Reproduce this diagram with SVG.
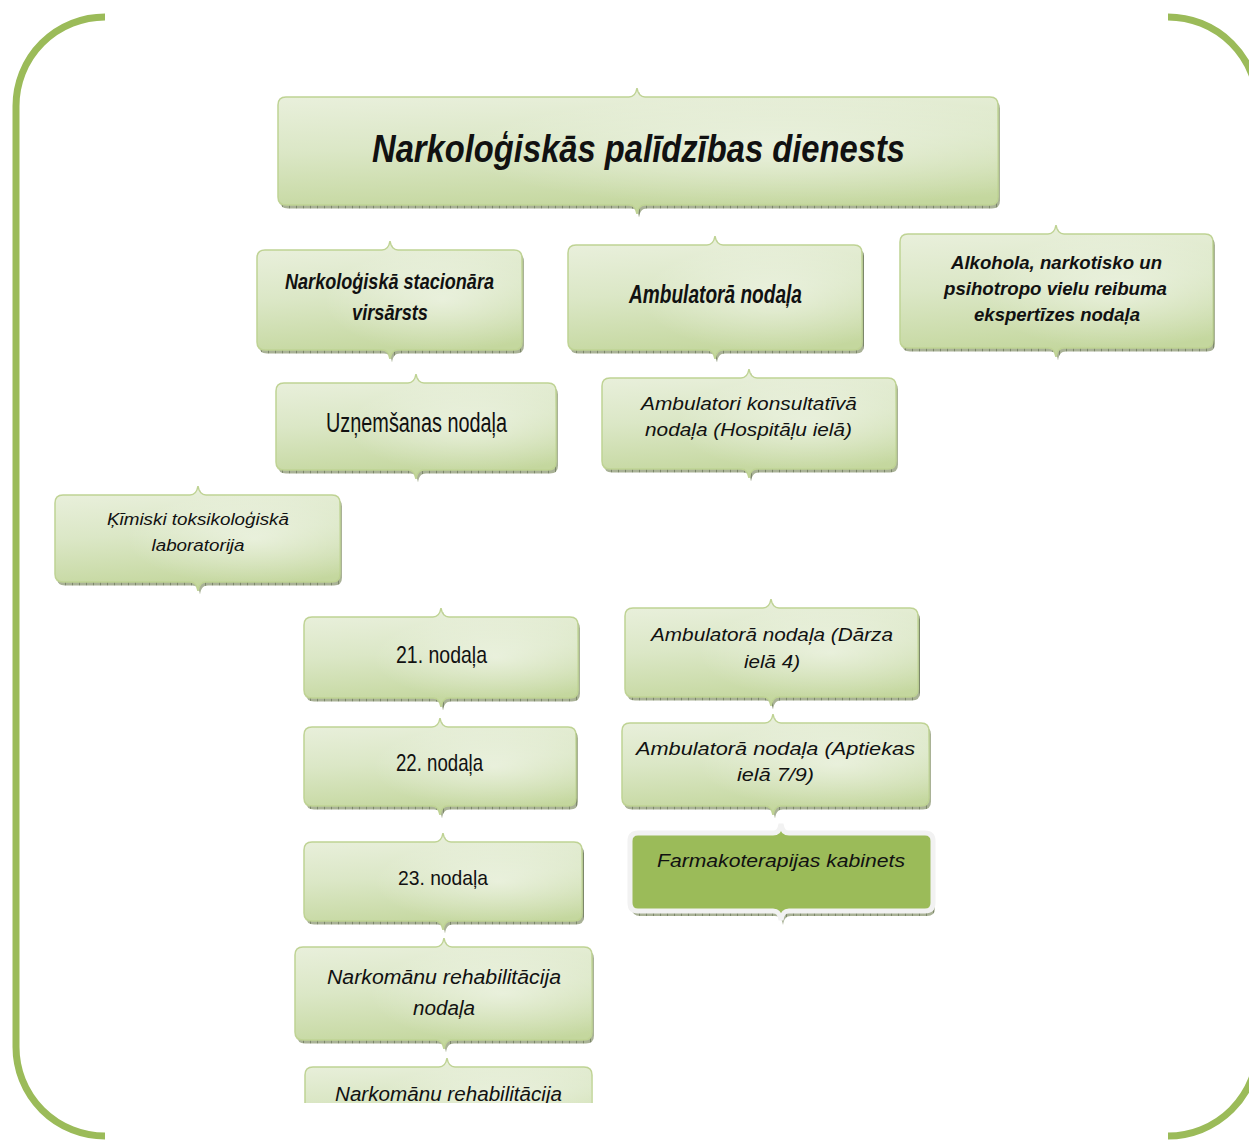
<svg xmlns="http://www.w3.org/2000/svg" xmlns:xlink="http://www.w3.org/1999/xlink" width="1249" height="1141" viewBox="0 0 1249 1141">
<style>
.frame{fill:none;stroke:#9bbb59;stroke-width:7}
.sh{fill:url(#hatch)}
.box{fill:url(#bg);stroke:#bfd394;stroke-width:1.5}
.hl{fill:url(#rg);stroke:none}
.dark{fill:#9bbb59;stroke:#f2f2f2;stroke-width:5}
text{fill:#111;text-anchor:middle}
.tb{font-family:"Liberation Sans",Arial,sans-serif;font-weight:bold;font-style:italic}
.nb{font-family:"Liberation Sans Narrow","Liberation Sans",sans-serif;font-weight:bold;font-style:italic}
.nr{font-family:"Liberation Sans Narrow","Liberation Sans",sans-serif}
.it{font-family:"Liberation Sans",Arial,sans-serif;font-style:italic}
</style>
<defs>
<linearGradient id="bg" x1="0" y1="0" x2="0.15" y2="1">
<stop offset="0" stop-color="#ebf1df"/>
<stop offset="0.5" stop-color="#dbe7c6"/>
<stop offset="1" stop-color="#c4d79e"/>
</linearGradient>
<radialGradient id="rg" cx="0.7" cy="0.5" r="0.45">
<stop offset="0" stop-color="#ffffff" stop-opacity="0.45"/>
<stop offset="1" stop-color="#ffffff" stop-opacity="0"/>
</radialGradient>
<pattern id="hatch" width="7" height="6" patternUnits="userSpaceOnUse">
<rect width="7" height="6" fill="#a9b296"/>
<line x1="0.5" y1="0" x2="0.5" y2="6" stroke="#7c876a" stroke-width="1"/>
</pattern>
<clipPath id="clipBottom"><rect x="0" y="0" width="1249" height="1103"/></clipPath>
<path id="p1" d="M286,97 H629 C634,97 636,94 637,88 C638,94 640,97 645,97 H990 Q998,97 998,105 V197 Q998,205 990,205 H645 C640,205 638,208 637,214 C636,208 634,205 629,205 H286 Q278,205 278,197 V105 Q278,97 286,97 Z"/>
<path id="p2" d="M265,250 H382 C387,250 389,247 390,241 C391,247 393,250 398,250 H514 Q522,250 522,258 V342 Q522,350 514,350 H398 C393,350 391,353 390,359 C389,353 387,350 382,350 H265 Q257,350 257,342 V258 Q257,250 265,250 Z"/>
<path id="p3" d="M576,245 H707 C712,245 714,242 715,236 C716,242 718,245 723,245 H854 Q862,245 862,253 V342 Q862,350 854,350 H723 C718,350 716,353 715,359 C714,353 712,350 707,350 H576 Q568,350 568,342 V253 Q568,245 576,245 Z"/>
<path id="p4" d="M908,234 H1048 C1053,234 1055,231 1056,225 C1057,231 1059,234 1064,234 H1205 Q1213,234 1213,242 V340 Q1213,348 1205,348 H1064 C1059,348 1057,351 1056,357 C1055,351 1053,348 1048,348 H908 Q900,348 900,340 V242 Q900,234 908,234 Z"/>
<path id="p5" d="M284,383 H408 C413,383 415,380 416,374 C417,380 419,383 424,383 H548 Q556,383 556,391 V462 Q556,470 548,470 H424 C419,470 417,473 416,479 C415,473 413,470 408,470 H284 Q276,470 276,462 V391 Q276,383 284,383 Z"/>
<path id="p6" d="M610,378 H741 C746,378 748,375 749,369 C750,375 752,378 757,378 H888 Q896,378 896,386 V461 Q896,469 888,469 H757 C752,469 750,472 749,478 C748,472 746,469 741,469 H610 Q602,469 602,461 V386 Q602,378 610,378 Z"/>
<path id="p7" d="M63,495 H190 C195,495 197,492 198,486 C199,492 201,495 206,495 H332 Q340,495 340,503 V574 Q340,582 332,582 H206 C201,582 199,585 198,591 C197,585 195,582 190,582 H63 Q55,582 55,574 V503 Q55,495 63,495 Z"/>
<path id="p8" d="M312,617 H433 C438,617 440,614 441,608 C442,614 444,617 449,617 H570 Q578,617 578,625 V690 Q578,698 570,698 H449 C444,698 442,701 441,707 C440,701 438,698 433,698 H312 Q304,698 304,690 V625 Q304,617 312,617 Z"/>
<path id="p9" d="M312,727 H432 C437,727 439,724 440,718 C441,724 443,727 448,727 H568 Q576,727 576,735 V798 Q576,806 568,806 H448 C443,806 441,809 440,815 C439,809 437,806 432,806 H312 Q304,806 304,798 V735 Q304,727 312,727 Z"/>
<path id="p10" d="M312,842 H435 C440,842 442,839 443,833 C444,839 446,842 451,842 H574 Q582,842 582,850 V913 Q582,921 574,921 H451 C446,921 444,924 443,930 C442,924 440,921 435,921 H312 Q304,921 304,913 V850 Q304,842 312,842 Z"/>
<path id="p11" d="M303,947 H436 C441,947 443,944 444,938 C445,944 447,947 452,947 H584 Q592,947 592,955 V1032 Q592,1040 584,1040 H452 C447,1040 445,1043 444,1049 C443,1043 441,1040 436,1040 H303 Q295,1040 295,1032 V955 Q295,947 303,947 Z"/>
<path id="p12" d="M313,1067 H439 C444,1067 446,1064 447,1058 C448,1064 450,1067 455,1067 H584 Q592,1067 592,1075 V1140 H305 V1075 Q305,1067 313,1067 Z"/>
<path id="p13" d="M633,608 H763 C768,608 770,605 771,599 C772,605 774,608 779,608 H910 Q918,608 918,616 V689 Q918,697 910,697 H779 C774,697 772,700 771,706 C770,700 768,697 763,697 H633 Q625,697 625,689 V616 Q625,608 633,608 Z"/>
<path id="p14" d="M630,723 H765 C770,723 772,720 773,714 C774,720 776,723 781,723 H921 Q929,723 929,731 V798 Q929,806 921,806 H781 C776,806 774,809 773,815 C772,809 770,806 765,806 H630 Q622,806 622,798 V731 Q622,723 630,723 Z"/>
<path id="p15" d="M638,833 H773 C778,833 780,830 781,824 C782,830 784,833 789,833 H925 Q933,833 933,841 V903 Q933,911 925,911 H789 C784,911 782,914 781,920 C780,914 778,911 773,911 H638 Q630,911 630,903 V841 Q630,833 638,833 Z"/>
</defs>
<rect width="1249" height="1141" fill="#ffffff"/>
<g id="frame">
<path class="frame" d="M105,17 A89,89 0 0 0 16,106 V1047 A89,89 0 0 0 105,1136"/>
<path class="frame" d="M1168,17 A90,90 0 0 1 1258,107 V1046 A90,90 0 0 1 1168,1136"/>
</g>
<g id="connectors"></g>
<g id="n-title">
<use href="#p1" class="sh" transform="translate(2,3.5)"/>
<use href="#p1" class="box"/><use href="#p1" class="hl"/>
<text class="tb" x="638.5" y="162" font-size="38" textLength="533" lengthAdjust="spacingAndGlyphs">Narkoloģiskās palīdzības dienests</text>
</g>
<g id="n-stacionars">
<use href="#p2" class="sh" transform="translate(2,3.5)"/>
<use href="#p2" class="box"/><use href="#p2" class="hl"/>
<text class="nb" x="389.5" y="289" font-size="22" textLength="209" lengthAdjust="spacingAndGlyphs">Narkoloģiskā stacionāra</text>
<text class="nb" x="390" y="320" font-size="22" textLength="76" lengthAdjust="spacingAndGlyphs">virsārsts</text>
</g>
<g id="n-ambulatora">
<use href="#p3" class="sh" transform="translate(2,3.5)"/>
<use href="#p3" class="box"/><use href="#p3" class="hl"/>
<text class="nb" x="715.5" y="303" font-size="25" textLength="173" lengthAdjust="spacingAndGlyphs">Ambulatorā nodaļa</text>
</g>
<g id="n-ekspertizes">
<use href="#p4" class="sh" transform="translate(2,3.5)"/>
<use href="#p4" class="box"/><use href="#p4" class="hl"/>
<text class="tb" x="1056.5" y="269" font-size="18" textLength="211" lengthAdjust="spacingAndGlyphs">Alkohola, narkotisko un</text>
<text class="tb" x="1055.5" y="295" font-size="18" textLength="223" lengthAdjust="spacingAndGlyphs">psihotropo vielu reibuma</text>
<text class="tb" x="1057" y="321" font-size="18" textLength="166" lengthAdjust="spacingAndGlyphs">ekspertīzes nodaļa</text>
</g>
<g id="n-uznemsanas">
<use href="#p5" class="sh" transform="translate(2,3.5)"/>
<use href="#p5" class="box"/><use href="#p5" class="hl"/>
<text class="nr" x="416.5" y="432" font-size="27" textLength="181" lengthAdjust="spacingAndGlyphs">Uzņemšanas nodaļa</text>
</g>
<g id="n-konsultativa">
<use href="#p6" class="sh" transform="translate(2,3.5)"/>
<use href="#p6" class="box"/><use href="#p6" class="hl"/>
<text class="it" x="749" y="410" font-size="19" textLength="216" lengthAdjust="spacingAndGlyphs">Ambulatori konsultatīvā</text>
<text class="it" x="748.5" y="436" font-size="19" textLength="207" lengthAdjust="spacingAndGlyphs">nodaļa (Hospitāļu ielā)</text>
</g>
<g id="n-laboratorija">
<use href="#p7" class="sh" transform="translate(2,3.5)"/>
<use href="#p7" class="box"/><use href="#p7" class="hl"/>
<text class="it" x="198" y="525" font-size="16" textLength="182" lengthAdjust="spacingAndGlyphs">Ķīmiski toksikoloģiskā</text>
<text class="it" x="198" y="551" font-size="16" textLength="93" lengthAdjust="spacingAndGlyphs">laboratorija</text>
</g>
<g id="n-21">
<use href="#p8" class="sh" transform="translate(2,3.5)"/>
<use href="#p8" class="box"/><use href="#p8" class="hl"/>
<text class="nr" x="441.5" y="663" font-size="24" textLength="91" lengthAdjust="spacingAndGlyphs">21. nodaļa</text>
</g>
<g id="n-22">
<use href="#p9" class="sh" transform="translate(2,3.5)"/>
<use href="#p9" class="box"/><use href="#p9" class="hl"/>
<text class="nr" x="439.5" y="771" font-size="24" textLength="87" lengthAdjust="spacingAndGlyphs">22. nodaļa</text>
</g>
<g id="n-23">
<use href="#p10" class="sh" transform="translate(2,3.5)"/>
<use href="#p10" class="box"/><use href="#p10" class="hl"/>
<text class="nr" x="443" y="885" font-size="21" textLength="90" lengthAdjust="spacingAndGlyphs">23. nodaļa</text>
</g>
<g id="n-rehab">
<use href="#p11" class="sh" transform="translate(2,3.5)"/>
<use href="#p11" class="box"/><use href="#p11" class="hl"/>
<text class="it" x="444" y="984" font-size="20" textLength="234" lengthAdjust="spacingAndGlyphs">Narkomānu rehabilitācija</text>
<text class="it" x="444" y="1015" font-size="20" textLength="62" lengthAdjust="spacingAndGlyphs">nodaļa</text>
</g>
<g id="n-rehab2" clip-path="url(#clipBottom)">
<use href="#p12" class="box"/><use href="#p12" class="hl"/>
<text class="it" x="448.5" y="1101" font-size="20" textLength="227" lengthAdjust="spacingAndGlyphs">Narkomānu rehabilitācija</text>
</g>
<g id="n-darza">
<use href="#p13" class="sh" transform="translate(2,3.5)"/>
<use href="#p13" class="box"/><use href="#p13" class="hl"/>
<text class="it" x="772" y="641" font-size="19" textLength="242" lengthAdjust="spacingAndGlyphs">Ambulatorā nodaļa (Dārza</text>
<text class="it" x="772" y="668" font-size="19" textLength="56" lengthAdjust="spacingAndGlyphs">ielā 4)</text>
</g>
<g id="n-aptiekas">
<use href="#p14" class="sh" transform="translate(2,3.5)"/>
<use href="#p14" class="box"/><use href="#p14" class="hl"/>
<text class="it" x="775.5" y="755" font-size="19" textLength="279" lengthAdjust="spacingAndGlyphs">Ambulatorā nodaļa (Aptiekas</text>
<text class="it" x="775.5" y="781" font-size="19" textLength="77" lengthAdjust="spacingAndGlyphs">ielā 7/9)</text>
</g>
<g id="n-farmako">
<use href="#p15" class="sh" transform="translate(2,5)"/>
<use href="#p15" class="dark"/>
<text class="it" x="781" y="867" font-size="19" textLength="248" lengthAdjust="spacingAndGlyphs">Farmakoterapijas kabinets</text>
</g>
</svg>
